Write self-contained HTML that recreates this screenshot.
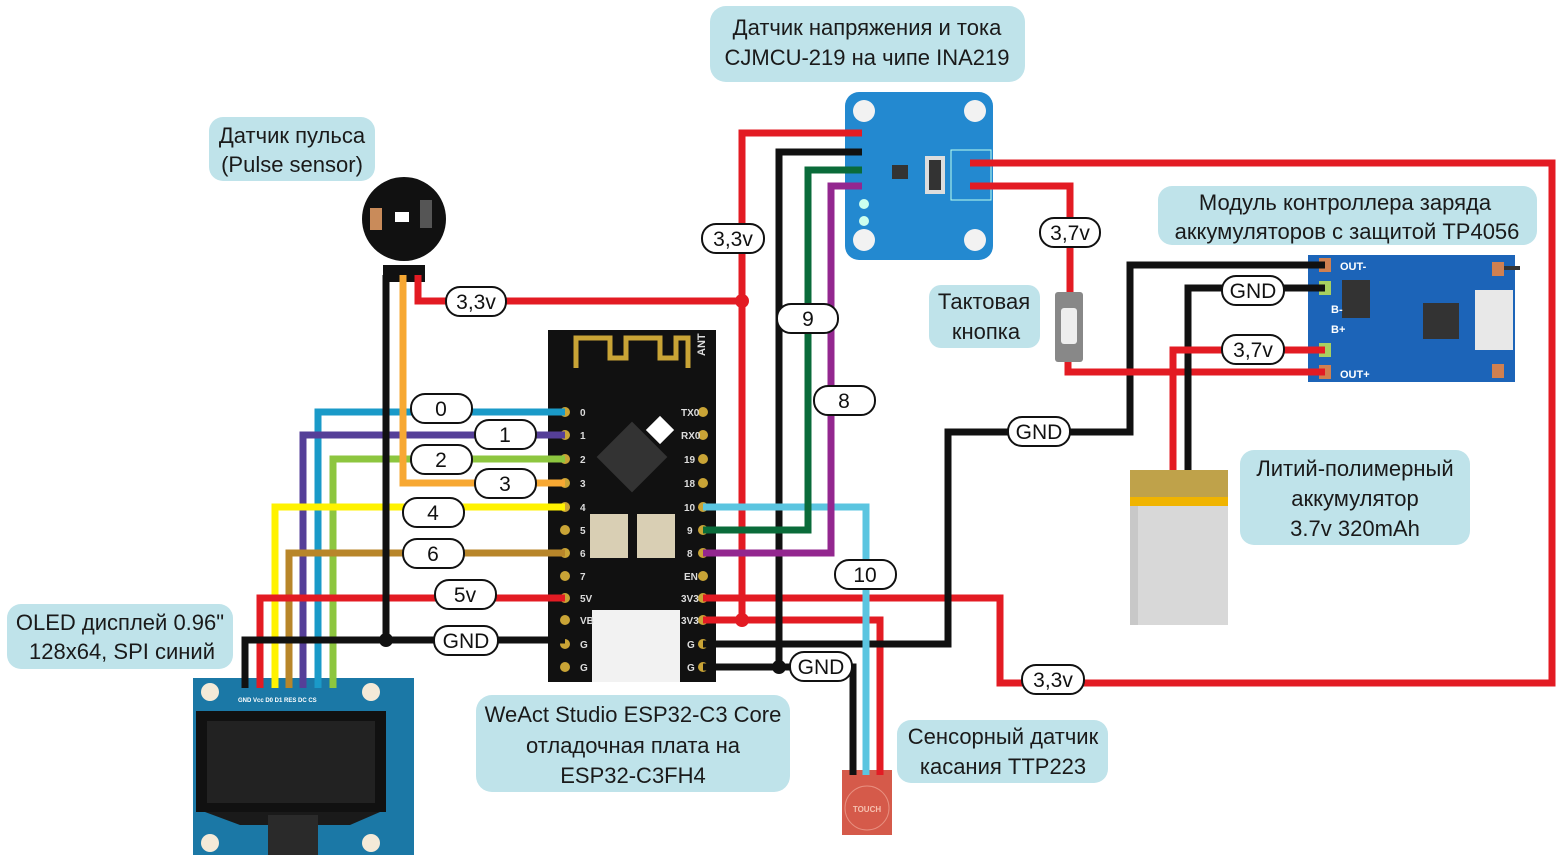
<!DOCTYPE html>
<html><head><meta charset="utf-8"><style>
html,body{margin:0;padding:0;background:#fff}
svg{display:block}
text{font-family:"Liberation Sans","DejaVu Sans",sans-serif}
.lb{fill:#bfe3ea}
.lt{font-size:22px;fill:#1a1a1a;text-anchor:middle}
.pill{fill:#fff;stroke:#111;stroke-width:2}
.pt{font-size:21px;fill:#111;text-anchor:middle}
.w{fill:none;stroke-width:7;stroke-linejoin:miter}
</style></head><body>
<svg width="1560" height="855" viewBox="0 0 1560 855" xmlns="http://www.w3.org/2000/svg">
<!-- label boxes -->
<rect class="lb" x="710" y="6" width="315" height="76" rx="16"/>
<text class="lt" x="867" y="35">Датчик напряжения и тока</text>
<text class="lt" x="867" y="65">CJMCU-219 на чипе INA219</text>
<rect class="lb" x="209" y="117" width="166" height="64" rx="14"/>
<text class="lt" x="292" y="143">Датчик пульса</text>
<text class="lt" x="292" y="172">(Pulse sensor)</text>
<rect class="lb" x="1158" y="186" width="379" height="59" rx="14"/>
<text class="lt" x="1345" y="210">Модуль контроллера заряда</text>
<text class="lt" x="1347" y="239">аккумуляторов с защитой TP4056</text>
<rect class="lb" x="929" y="285" width="111" height="63" rx="12"/>
<text class="lt" x="984" y="309">Тактовая</text>
<text class="lt" x="986" y="339">кнопка</text>
<rect class="lb" x="1240" y="450" width="230" height="95" rx="14"/>
<text class="lt" x="1355" y="476">Литий-полимерный</text>
<text class="lt" x="1355" y="506">аккумулятор</text>
<text class="lt" x="1355" y="536">3.7v 320mAh</text>
<rect class="lb" x="7" y="604" width="226" height="65" rx="14"/>
<text class="lt" x="120" y="630">OLED дисплей 0.96"</text>
<text class="lt" x="122" y="659">128x64, SPI синий</text>
<rect class="lb" x="476" y="695" width="314" height="97" rx="16"/>
<text class="lt" x="633" y="722">WeAct Studio ESP32-C3 Core</text>
<text class="lt" x="633" y="753">отладочная плата на</text>
<text class="lt" x="633" y="783">ESP32-C3FH4</text>
<rect class="lb" x="897" y="720" width="211" height="63" rx="14"/>
<text class="lt" x="1003" y="744">Сенсорный датчик</text>
<text class="lt" x="1003" y="774">касания TTP223</text>

<!-- ESP board -->
<rect x="548" y="330" width="168" height="352" fill="#111"/>
<path d="M576 368 V338 H610 V358 H626 V338 H660 V358 H676 V338 H688 V368" fill="none" stroke="#c9a436" stroke-width="5"/>
<text x="705" y="356" font-size="11" fill="#ddd" transform="rotate(-90 705 356)" font-weight="bold">ANT</text>
<rect x="607" y="432" width="50" height="50" fill="#333" transform="rotate(45 632 457)"/>
<rect x="650" y="420" width="20" height="20" fill="#fff" transform="rotate(45 660 430)"/>
<rect x="590" y="514" width="38" height="44" fill="#d9cfb4"/>
<rect x="637" y="514" width="38" height="44" fill="#d9cfb4"/>
<rect x="592" y="610" width="88" height="72" fill="#f2f2f2"/>
<g fill="#c9a436">
<circle cx="565" cy="412" r="5"/><circle cx="565" cy="435" r="5"/><circle cx="565" cy="459" r="5"/><circle cx="565" cy="483" r="5"/><circle cx="565" cy="507" r="5"/><circle cx="565" cy="530" r="5"/><circle cx="565" cy="553" r="5"/><circle cx="565" cy="576" r="5"/><circle cx="565" cy="598" r="5"/><circle cx="565" cy="620" r="5"/><circle cx="565" cy="644" r="5"/><circle cx="565" cy="667" r="5"/>
<circle cx="703" cy="412" r="5"/><circle cx="703" cy="435" r="5"/><circle cx="703" cy="459" r="5"/><circle cx="703" cy="483" r="5"/><circle cx="703" cy="507" r="5"/><circle cx="703" cy="530" r="5"/><circle cx="703" cy="553" r="5"/><circle cx="703" cy="576" r="5"/><circle cx="703" cy="598" r="5"/><circle cx="703" cy="620" r="5"/><circle cx="703" cy="644" r="5"/><circle cx="703" cy="667" r="5"/>
</g>
<g font-size="10" fill="#ddd" font-weight="bold">
<text x="580" y="416">0</text><text x="580" y="439">1</text><text x="580" y="463">2</text><text x="580" y="487">3</text><text x="580" y="511">4</text><text x="580" y="534">5</text><text x="580" y="557">6</text><text x="580" y="580">7</text><text x="580" y="602">5V</text><text x="580" y="624">VB</text><text x="580" y="648">G</text><text x="580" y="671">G</text>
<text x="681" y="416">TX0</text><text x="681" y="439">RX0</text><text x="684" y="463">19</text><text x="684" y="487">18</text><text x="684" y="511">10</text><text x="687" y="534">9</text><text x="687" y="557">8</text><text x="684" y="580">EN</text><text x="681" y="602">3V3</text><text x="681" y="624">3V3</text><text x="687" y="648">G</text><text x="687" y="671">G</text>
</g>

<!-- INA219 -->
<rect x="845" y="92" width="148" height="168" rx="14" fill="#2389d0"/>
<circle cx="864" cy="111" r="11" fill="#f2f2f2"/><circle cx="975" cy="111" r="11" fill="#f2f2f2"/>
<circle cx="864" cy="240" r="11" fill="#f2f2f2"/><circle cx="975" cy="240" r="11" fill="#f2f2f2"/>
<rect x="925" y="156" width="20" height="38" fill="#ddd"/><rect x="929" y="160" width="12" height="30" fill="#333"/>
<rect x="951" y="150" width="40" height="50" fill="none" stroke="#bfe" stroke-width="1"/>
<circle cx="864" cy="204" r="5" fill="#cfe"/><circle cx="864" cy="221" r="5" fill="#cfe"/>
<rect x="892" y="165" width="16" height="14" fill="#333"/>
<!-- TP4056 -->
<rect x="1308" y="255" width="207" height="127" fill="#1c64b8"/>
<rect x="1342" y="280" width="28" height="38" fill="#333"/>
<rect x="1423" y="303" width="36" height="36" fill="#333"/>
<rect x="1475" y="290" width="38" height="60" fill="#e8e8e8"/>
<rect x="1319" y="258" width="12" height="14" fill="#d08050"/><rect x="1319" y="281" width="12" height="14" fill="#a8d060"/>
<rect x="1319" y="343" width="12" height="14" fill="#a8d060"/><rect x="1319" y="365" width="12" height="14" fill="#d08050"/>
<rect x="1492" y="262" width="12" height="14" fill="#d08050"/><rect x="1492" y="364" width="12" height="14" fill="#d08050"/>
<g font-size="11" fill="#fff" font-weight="bold"><text x="1340" y="270">OUT-</text><text x="1340" y="378">OUT+</text><text x="1331" y="313">B-</text><text x="1331" y="333">B+</text></g>
<line x1="1504" y1="268" x2="1520" y2="268" stroke="#333" stroke-width="4"/>

<!-- pulse sensor -->
<circle cx="404" cy="219" r="42" fill="#111"/>
<rect x="370" y="208" width="12" height="22" fill="#c98b5a"/><rect x="395" y="212" width="14" height="10" fill="#fff"/>
<rect x="420" y="200" width="12" height="28" fill="#555"/>
<rect x="383" y="265" width="42" height="17" fill="#111"/>
<!-- button -->
<rect x="1055" y="292" width="28" height="70" rx="3" fill="#888"/>
<rect x="1061" y="308" width="16" height="36" rx="3" fill="#eee"/>
<!-- battery -->
<rect x="1130" y="470" width="98" height="155" fill="#d8d8d8"/>
<rect x="1130" y="470" width="98" height="30" fill="#bfa24a"/>
<rect x="1130" y="497" width="98" height="9" fill="#f0b400"/>
<rect x="1130" y="506" width="8" height="119" fill="#c8c8c8"/>
<!-- OLED -->
<rect x="193" y="678" width="221" height="177" fill="#1b78a6"/>
<circle cx="210" cy="692" r="9" fill="#f4ead8"/><circle cx="371" cy="692" r="9" fill="#f4ead8"/>
<circle cx="210" cy="843" r="9" fill="#f4ead8"/><circle cx="371" cy="843" r="9" fill="#f4ead8"/>
<rect x="196" y="711" width="190" height="101" fill="#111"/>
<rect x="207" y="721" width="168" height="82" fill="#222"/>
<path d="M205 812 H380 L350 825 H240 Z" fill="#1a1a1a"/>
<rect x="268" y="815" width="50" height="40" fill="#2a2a2a"/>
<g font-size="6" fill="#fff" font-weight="bold"><text x="238" y="702">GND Vcc D0 D1 RES DC CS</text></g>
<!-- touch -->
<rect x="842" y="770" width="50" height="65" fill="#d55a4a"/>
<circle cx="867" cy="808" r="22" fill="none" stroke="#e89080" stroke-width="1"/>
<text x="867" y="812" font-size="8" fill="#f5c0b0" text-anchor="middle" font-weight="bold">TOUCH</text>

<!-- wires -->
<g class="w">
<path d="M565 412 H318 V688" stroke="#1a9ac8"/>
<path d="M565 435 H303 V688" stroke="#553f98"/>
<path d="M565 459 H333 V688" stroke="#8dc63f"/>
<path d="M565 483 H403 V275" stroke="#f7a833"/>
<path d="M565 507 H275 V688" stroke="#fff200"/>
<path d="M565 553 H289 V688" stroke="#b8862a"/>
<path d="M565 598 H260 V688" stroke="#e31b23"/>
<path d="M565 640 H245 V688" stroke="#111"/>
<path d="M386 275 V640" stroke="#111"/>
<path d="M418 275 V301 H742" stroke="#e31b23"/>
<path d="M862 133 H742 V620" stroke="#e31b23"/>
<path d="M703 598 H1000 V683 H1552 V163 H970" stroke="#e31b23"/>
<path d="M703 620 H880 V775" stroke="#e31b23"/>
<path d="M703 644 H948 V432 H1130 V265 H1325" stroke="#111"/>
<path d="M862 152 H779 V667" stroke="#111"/>
<path d="M703 667 H853 V775" stroke="#111"/>
<path d="M703 507 H866 V775" stroke="#5bc5e0"/>
<path d="M703 530 H808 V170 H862" stroke="#0a6b3a"/>
<path d="M703 553 H831 V186 H862" stroke="#93278f"/>
<path d="M970 186 H1070 V292" stroke="#e31b23"/>
<path d="M1068 362 V372 H1325" stroke="#e31b23"/>
<path d="M1325 288 H1188 V470" stroke="#111"/>
<path d="M1325 350 H1173 V470" stroke="#e31b23"/>
</g>
<circle cx="386" cy="640" r="7" fill="#111"/>
<circle cx="742" cy="301" r="7" fill="#e31b23"/>
<circle cx="742" cy="620" r="7" fill="#e31b23"/>
<circle cx="779" cy="667" r="7" fill="#111"/>

<!-- pills -->
<g>
<rect class="pill" x="411" y="394" width="61" height="29" rx="14"/><text class="pt" x="441" y="416">0</text>
<rect class="pill" x="475" y="420" width="61" height="29" rx="14"/><text class="pt" x="505" y="442">1</text>
<rect class="pill" x="411" y="445" width="61" height="29" rx="14"/><text class="pt" x="441" y="467">2</text>
<rect class="pill" x="475" y="469" width="61" height="29" rx="14"/><text class="pt" x="505" y="491">3</text>
<rect class="pill" x="403" y="498" width="61" height="29" rx="14"/><text class="pt" x="433" y="520">4</text>
<rect class="pill" x="403" y="539" width="61" height="29" rx="14"/><text class="pt" x="433" y="561">6</text>
<rect class="pill" x="435" y="580" width="61" height="29" rx="14"/><text class="pt" x="465" y="602">5v</text>
<rect class="pill" x="434" y="626" width="64" height="29" rx="14"/><text class="pt" x="466" y="648">GND</text>
<rect class="pill" x="446" y="287" width="60" height="29" rx="14"/><text class="pt" x="476" y="309">3,3v</text>
<rect class="pill" x="702" y="224" width="62" height="29" rx="14"/><text class="pt" x="733" y="246">3,3v</text>
<rect class="pill" x="777" y="304" width="61" height="29" rx="14"/><text class="pt" x="808" y="326">9</text>
<rect class="pill" x="814" y="386" width="61" height="29" rx="14"/><text class="pt" x="844" y="408">8</text>
<rect class="pill" x="835" y="560" width="61" height="29" rx="14"/><text class="pt" x="865" y="582">10</text>
<rect class="pill" x="790" y="652" width="62" height="29" rx="14"/><text class="pt" x="821" y="674">GND</text>
<rect class="pill" x="1008" y="417" width="62" height="29" rx="14"/><text class="pt" x="1039" y="439">GND</text>
<rect class="pill" x="1040" y="218" width="60" height="29" rx="14"/><text class="pt" x="1070" y="240">3,7v</text>
<rect class="pill" x="1222" y="276" width="62" height="29" rx="14"/><text class="pt" x="1253" y="298">GND</text>
<rect class="pill" x="1222" y="335" width="62" height="29" rx="14"/><text class="pt" x="1253" y="357">3,7v</text>
<rect class="pill" x="1022" y="665" width="62" height="29" rx="14"/><text class="pt" x="1053" y="687">3,3v</text>
</g>
</svg>
</body></html>
